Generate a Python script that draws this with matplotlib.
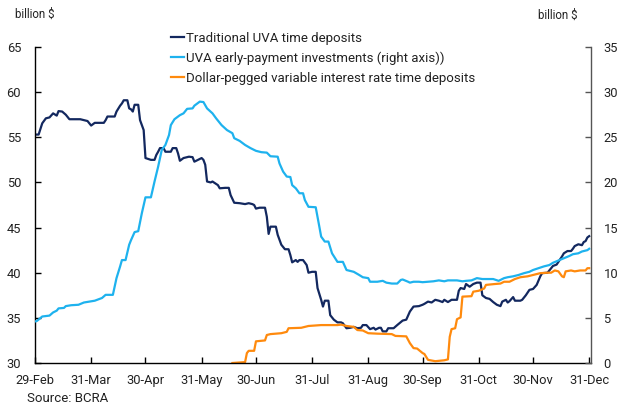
import matplotlib
matplotlib.use("Agg")
import matplotlib.pyplot as plt
import matplotlib.dates as mdates
import pandas as pd

plt.rcParams['font.family'] = ['Roboto', 'DejaVu Sans']

# ---------------- data ----------------
trad_dates = ["02-29","03-02","03-04","03-06","03-08","03-10","03-12","03-13","03-15","03-17",
    "03-19","03-25","03-27","03-29","03-31","04-02","04-05","04-07","04-08","04-09",
    "04-13","04-14","04-16","04-17","04-18","04-20","04-21","04-22","04-23","04-24",
    "04-26","04-27","04-29","04-30","05-03","05-05","05-06","05-07","05-08","05-10",
    "05-11","05-14","05-15","05-17","05-18","05-19","05-21","05-24","05-26","05-27",
    "05-29","05-31","06-01","06-02","06-03","06-05","06-06","06-09","06-10","06-13",
    "06-15","06-16","06-18","06-21","06-24","06-26","06-28","06-29","06-30","07-02",
    "07-05","07-06","07-07","07-08","07-11","07-12","07-14","07-16","07-18","07-19",
    "07-20","07-22","07-23","07-24","07-26","07-28","07-29","07-31","08-02","08-03",
    "08-05","08-06","08-07","08-09","08-10","08-12","08-14","08-16","08-17","08-19",
    "08-21","08-23","08-25","08-27","08-28","08-30","09-01","09-03","09-04","09-06",
    "09-07","09-08","09-10","09-11","09-14","09-16","09-19","09-21","09-23","09-25",
    "09-28","09-30","10-01","10-03","10-05","10-07","10-09","10-11","10-12","10-14",
    "10-16","10-19","10-20","10-21","10-23","10-24","10-26","10-28","10-30","11-01",
    "11-02","11-04","11-06","11-08","11-10","11-12","11-13","11-15","11-16","11-17",
    "11-19","11-20","11-23","11-24","11-26","11-28","11-30","12-02","12-04","12-05",
    "12-08","12-09","12-11","12-13","12-14","12-16","12-17","12-19","12-21","12-22",
    "12-23","12-25","12-27","12-28","12-29","12-30","12-31"]
trad_values = [55.3,55.3,56.55,57.1,57.2,57.65,57.4,57.9,57.85,57.5,
    57.0,57.0,56.9,56.8,56.3,56.6,56.6,56.6,56.9,57.3,
    57.3,57.85,58.5,58.75,59.1,59.1,58.2,58.1,57.85,58.6,
    58.6,56.9,55.8,52.7,52.5,52.5,53.05,53.4,53.8,53.8,
    53.4,53.4,53.8,53.8,53.2,52.4,52.7,52.85,52.8,52.3,
    52.5,52.7,52.5,51.95,50.1,50.0,50.1,49.7,49.35,49.4,
    49.4,48.6,47.75,47.7,47.6,47.7,47.6,47.5,47.1,47.2,
    47.2,46.2,44.3,45.1,45.1,44.2,43.1,42.6,42.6,41.95,
    41.15,41.4,41.2,41.4,41.4,40.85,40.0,40.1,40.1,38.3,
    37.0,36.25,36.9,36.9,35.3,34.8,34.5,34.5,34.4,33.85,
    33.9,34.0,33.85,33.9,34.2,34.2,33.75,33.9,33.7,33.9,
    33.9,33.5,33.5,33.85,33.85,34.2,34.7,34.8,35.7,36.25,
    36.3,36.45,36.55,36.8,36.7,37.0,36.9,36.75,37.0,36.75,
    37.0,37.0,38.0,38.3,38.2,38.75,38.45,38.75,38.9,38.9,
    37.5,37.2,37.1,36.75,36.45,36.3,36.8,37.0,36.7,36.85,
    37.3,36.9,36.9,37.0,37.5,38.1,38.2,38.65,39.6,39.95,
    40.0,40.25,40.75,40.9,41.2,41.8,42.15,42.4,42.4,42.65,
    42.95,43.15,43.05,43.4,43.5,43.9,44.05]

early_dates = ["02-29","03-01","03-04","03-06","03-08","03-10","03-12","03-13","03-16","03-17",
    "03-20","03-24","03-27","03-30","04-02","04-04","04-06","04-08","04-12","04-14",
    "04-16","04-17","04-19","04-21","04-22","04-24","04-26","04-28","04-30","05-03",
    "05-05","05-07","05-09","05-11","05-13","05-14","05-16","05-19","05-21","05-23",
    "05-26","05-27","05-30","06-01","06-03","06-06","06-08","06-11","06-14","06-17",
    "06-18","06-21","06-24","06-27","06-30","07-03","07-06","07-08","07-12","07-13",
    "07-15","07-17","07-19","07-20","07-22","07-24","07-26","07-27","07-29","08-02",
    "08-04","08-05","08-07","08-09","08-11","08-14","08-17","08-19","08-23","08-26",
    "08-28","08-31","09-01","09-05","09-08","09-10","09-13","09-16","09-18","09-19",
    "09-22","09-23","09-25","09-28","09-30","10-03","10-06","10-09","10-12","10-14",
    "10-19","10-22","10-24","10-27","10-30","11-02","11-08","11-11","11-14","11-16",
    "11-19","11-22","11-25","11-28","11-30","12-03","12-06","12-09","12-11","12-14",
    "12-17","12-20","12-22","12-25","12-27","12-30","12-31"]
early_values = [4.6,4.65,5.15,5.2,5.25,5.6,5.8,6.05,6.1,6.3,
    6.4,6.45,6.7,6.8,6.9,7.05,7.2,7.55,7.55,9.4,
    10.7,11.4,11.4,13.1,13.6,14.5,14.6,16.6,18.35,18.35,
    20.1,21.75,23.6,24.15,25.25,26.35,27.0,27.45,27.65,28.15,
    28.2,28.5,28.95,28.9,28.2,27.65,27.1,26.35,25.8,25.45,
    24.9,24.6,24.15,23.8,23.5,23.35,23.3,22.9,22.85,22.1,
    21.2,20.65,20.6,19.7,19.35,18.8,18.8,18.05,17.3,17.25,
    15.1,14.0,13.45,13.45,12.15,11.2,11.2,10.3,10.1,9.75,
    9.5,9.4,9.0,9.0,9.1,8.9,8.8,8.8,9.2,9.25,
    9.0,8.9,9.0,9.0,8.95,9.0,9.05,9.15,9.05,9.15,
    9.15,9.05,9.1,9.15,9.4,9.3,9.3,9.1,9.4,9.5,
    9.6,9.75,9.95,10.1,10.3,10.5,10.7,10.85,11.1,11.35,
    11.6,11.85,12.05,12.15,12.35,12.5,12.65]

usd_dates = ["06-17","06-24","06-25","06-26","06-29","06-30","07-05","07-06","07-08","07-14",
    "07-17","07-18","07-25","07-29","08-05","08-14","08-16","08-19","08-23","08-25",
    "08-28","08-31","09-05","09-13","09-15","09-21","09-23","09-25","09-27","09-30",
    "10-01","10-03","10-07","10-12","10-14","10-15","10-16","10-18","10-19","10-21",
    "10-22","10-27","10-28","10-31","11-03","11-04","11-09","11-12","11-14","11-17",
    "11-20","11-23","11-27","11-30","12-04","12-08","12-10","12-12","12-14","12-16",
    "12-17","12-18","12-21","12-23","12-26","12-29","12-30","12-31"]
usd_values = [30.0,30.1,31.1,31.35,31.35,32.4,32.5,33.1,33.2,33.3,
    33.45,33.85,33.9,34.1,34.2,34.2,34.25,34.1,34.0,33.65,
    33.6,33.3,33.25,33.2,33.0,32.95,32.2,31.65,31.6,31.1,
    31.0,30.35,30.2,30.3,30.4,32.9,33.75,33.85,34.85,35.05,
    37.35,37.4,37.9,38.0,38.25,38.65,38.75,38.8,39.0,39.0,
    39.3,39.5,39.6,39.75,39.95,40.0,40.0,40.25,40.15,39.6,
    39.5,40.15,40.25,40.15,40.25,40.25,40.5,40.5]

tick_dates = ["02-29","03-31","04-30","05-31","06-30","07-31","08-31","09-30","10-31","11-30","12-31"]

labels = ["Traditional UVA time deposits",
          "UVA early-payment investments (right axis))",
          "Dollar-pegged variable interest rate time deposits"]

def to_dt(lst):
    return pd.to_datetime(["2024-" + d for d in lst])

navy = "#13285f"
light = "#1eb2ee"
orange = "#ff8a0d"
txt = "#222222"

W, H = 629, 408
fig = plt.figure(figsize=(W/100, H/100), dpi=100)
ax = fig.add_axes([35/W, 1-363/H, (591-35)/W, (363-47)/H])
ax2 = ax.twinx()

l1, = ax.plot(to_dt(trad_dates), trad_values, color=navy, lw=1.6, label=labels[0])
l3, = ax.plot(to_dt(usd_dates), usd_values, color=orange, lw=1.6, label=labels[2])
l2, = ax2.plot(to_dt(early_dates), early_values, color=light, lw=1.6, label=labels[1])

ax.set_ylim(30, 65)
ax2.set_ylim(0, 35)
ax.set_yticks(range(30, 66, 5))
ax2.set_yticks(range(0, 36, 5))
ax.set_xlim(pd.Timestamp("2024-02-29"), pd.Timestamp("2025-01-01"))
ax.set_xticks(to_dt(tick_dates))
ax.xaxis.set_major_formatter(mdates.DateFormatter("%d-%b"))

for a in (ax, ax2):
    a.spines['top'].set_visible(False)
    a.patch.set_visible(False)
ax.spines['right'].set_visible(False)
ax2.spines['left'].set_visible(False)
ax2.spines['bottom'].set_visible(False)
ax.spines['left'].set_color('black')
ax.spines['bottom'].set_color('black')
ax2.spines['right'].set_color('#555555')
for s in ('left', 'bottom'):
    ax.spines[s].set_linewidth(1.0)
ax2.spines['right'].set_linewidth(1.0)

ax.tick_params(axis='both', direction='in', length=4, width=1, labelsize=9.3,
               labelcolor=txt, color='black')
ax.tick_params(axis='y', pad=10)
ax.tick_params(axis='x', pad=8)
ax2.tick_params(axis='y', direction='in', length=4, width=1, labelsize=9.3,
                labelcolor=txt, color='#555555', pad=9)

fig.text(15/W, 1-14/H, "billion $", fontsize=8.3, color=txt, va='center', ha='left')
fig.text(578/W, 1-15/H, "billion $", fontsize=8.3, color=txt, va='center', ha='right')
fig.text(27/W, 1-399/H, "Source: BCRA", fontsize=9.5, color=txt, va='center', ha='left')

fig.legend(handles=[l1, l2, l3], labels=labels, loc='upper left',
           bbox_to_anchor=(171/W, 1-32/H), frameon=False, fontsize=9.5,
           handlelength=1.0, handletextpad=0.1, labelspacing=0.5,
           borderpad=0, borderaxespad=0, labelcolor=txt)

fig.savefig("out.png", dpi=100)
